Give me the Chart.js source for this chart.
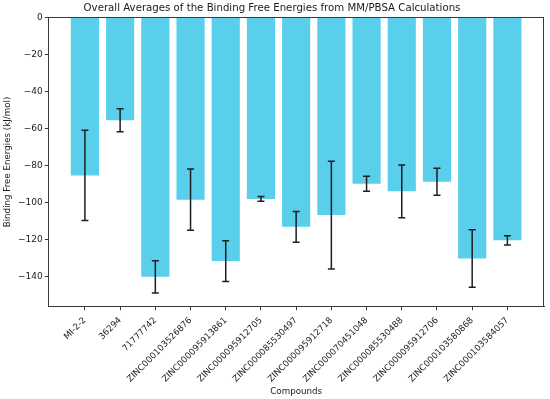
<!DOCTYPE html>
<html>
<head>
<meta charset="utf-8">
<script src="https://cdn.jsdelivr.net/npm/chart.js@4/dist/chart.umd.min.js"></script>
<style>
  html, body { margin: 0; padding: 0; background: #ffffff; }
  #wrap { width: 550px; height: 399px; position: relative; }
</style>
</head>
<body>
<div id="wrap"><canvas id="c" width="550" height="399"></canvas></div>
<script>
const LABELS = ['MI-2-2', '36294', '71777742', 'ZINC000103526876', 'ZINC000095913861', 'ZINC000095912705', 'ZINC000085530497', 'ZINC000095912718', 'ZINC000070451048', 'ZINC000085530488', 'ZINC000095912706', 'ZINC000103580868', 'ZINC000103584057'];
const MEANS = [-85.3, -55.6, -140.0, -98.4, -131.5, -98.0, -113.0, -106.7, -89.8, -93.9, -88.7, -130.1, -120.3];
const ERRORS = [24.3, 6.2, 8.7, 16.5, 11.0, 1.3, 8.3, 29.1, 4.0, 14.2, 7.3, 15.5, 2.5];
const Y_TICKS = [0, -20, -40, -60, -80, -100, -120, -140];
const TITLE = 'Overall Averages of the Binding Free Energies from MM/PBSA Calculations';
const X_TITLE = 'Compounds';
const Y_TITLE = 'Binding Free Energies (kJ/mol)';

const FONT = "'DejaVu Sans', sans-serif";
const INK = '#1a1a1a';

const errorBars = {
  id: 'errorBars',
  afterDatasetsDraw(chart) {
    const ctx = chart.ctx, xs = chart.scales.x, ys = chart.scales.y;
    ctx.save();
    ctx.strokeStyle = '#1f1f1f';
    ctx.lineWidth = 1.5;
    MEANS.forEach((m, i) => {
      const x = xs.getPixelForValue(i);
      const yTop = ys.getPixelForValue(m + ERRORS[i]);
      const yBot = ys.getPixelForValue(m - ERRORS[i]);
      const cap = 3.5;
      ctx.beginPath();
      ctx.moveTo(x, yTop); ctx.lineTo(x, yBot);
      ctx.moveTo(x - cap, yTop); ctx.lineTo(x + cap, yTop);
      ctx.moveTo(x - cap, yBot); ctx.lineTo(x + cap, yBot);
      ctx.stroke();
    });
    ctx.restore();
  }
};

const frame = {
  id: 'frame',
  afterDraw(chart) {
    const a = chart.chartArea, ctx = chart.ctx;
    ctx.save();
    ctx.strokeStyle = '#3a3a3a';
    ctx.lineWidth = 1;
    ctx.strokeRect(Math.round(a.left) + 0.5, Math.round(a.top) + 0.5,
                   Math.round(a.right - a.left) - 1, Math.round(a.bottom - a.top));
    ctx.restore();
  }
};

new Chart(document.getElementById('c'), {
  type: 'bar',
  data: {
    datasets: [{
      data: MEANS.map((v, i) => ({ x: i, y: v })),
      backgroundColor: '#59cfec',
      borderWidth: 0,
      categoryPercentage: 0.8,
      barPercentage: 1.0
    }]
  },
  options: {
    responsive: false,
    animation: false,
    devicePixelRatio: 1,
    layout: { padding: { left: 0, right: 6, top: 0, bottom: 0 } },
    plugins: {
      legend: { display: false },
      tooltip: { enabled: false },
      title: {
        display: true,
        text: TITLE,
        color: INK,
        font: { family: FONT, size: 10.2, weight: 'normal' },
        padding: { top: 2, bottom: 3 }
      }
    },
    scales: {
      x: {
        type: 'linear',
        offset: false,
        min: -1.04,
        max: 13.04,
        afterBuildTicks: s => { s.ticks = LABELS.map((_, i) => ({ value: i })); },
        afterFit: s => { s.height = 92.3; },
        ticks: {
          autoSkip: false,
          minRotation: 45,
          maxRotation: 45,
          padding: 5,
          color: INK,
          font: { family: FONT, size: 8.7 },
          callback: v => LABELS[v]
        },
        grid: { offset: false, drawOnChartArea: false, drawTicks: true, tickLength: 3.5, color: '#3a3a3a' },
        border: { display: true, color: '#3a3a3a' },
        title: {
          display: true,
          text: X_TITLE,
          color: INK,
          font: { family: FONT, size: 8.7 },
          padding: { top: 0, bottom: 2 }
        }
      },
      y: {
        min: -156.1,
        max: 0,
        afterBuildTicks: s => { s.ticks = Y_TICKS.map(v => ({ value: v })); },
        afterFit: s => { s.width = 48.3; },
        ticks: {
          padding: 2,
          color: INK,
          font: { family: FONT, size: 9 },
          callback: v => v === 0 ? '0' : '\u2212' + Math.abs(v)
        },
        grid: { drawOnChartArea: false, drawTicks: true, tickLength: 3.5, color: '#3a3a3a' },
        border: { display: true, color: '#3a3a3a' },
        title: {
          display: true,
          text: Y_TITLE,
          color: INK,
          font: { family: FONT, size: 8.7 },
          padding: { top: 3, bottom: 0 }
        }
      }
    }
  },
  plugins: [errorBars, frame]
});
</script>
</body>
</html>
